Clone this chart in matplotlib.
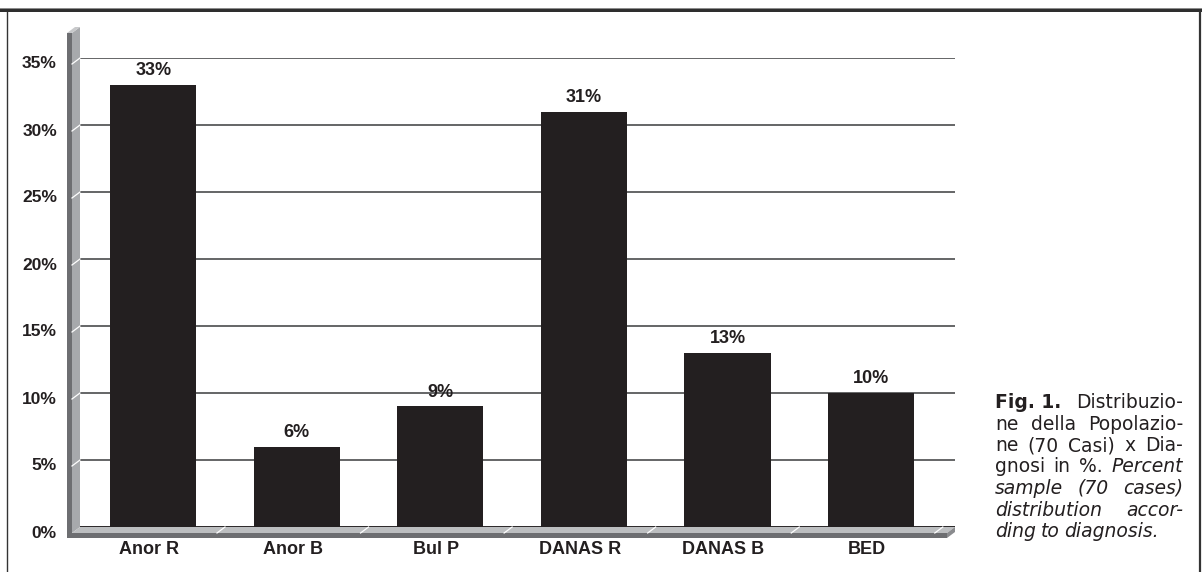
import matplotlib
matplotlib.use("Agg")
import matplotlib.pyplot as plt
from matplotlib.patches import Polygon, Rectangle
from matplotlib.lines import Line2D
from matplotlib.transforms import IdentityTransform, ScaledTranslation

# Data
categories = ["Anor R", "Anor B", "Bul P", "DANAS R", "DANAS B", "BED"]
percentages = [33, 6, 9, 31, 13, 10]
y_ticks = [0, 5, 10, 15, 20, 25, 30, 35]

caption_lines = [
    [("Fig. 1.", "bold"), ("Distribuzio-", "normal")],
    [("ne", "normal"), ("della", "normal"), ("Popolazio-", "normal")],
    [("ne", "normal"), ("(70", "normal"), ("Casi)", "normal"), ("x", "normal"), ("Dia-", "normal")],
    [("gnosi", "normal"), ("in", "normal"), ("%.", "normal"), ("Percent", "italic")],
    [("sample", "italic"), ("(70", "italic"), ("cases)", "italic")],
    [("distribution", "italic"), ("accor-", "italic")],
    [("ding", "italic"), ("to", "italic"), ("diagnosis.", "italic")],
]

W, H = 1202, 572
DPI = 100
INK = "#231f20"
FONT = "Liberation Sans"

fig = plt.figure(figsize=(W / DPI, H / DPI), dpi=DPI)
fig.patch.set_facecolor("white")

# plot box in pixels (left, right, bottom(0%), top(35%)) measured from top
L, R, B, T = 80, 955, 527, 58
ax = fig.add_axes([L / W, (H - B) / H, (R - L) / W, (B - T) / H])
ax.set_xlim(-0.51, 5.585)
ax.set_ylim(0, 35)
for s in ax.spines.values():
    s.set_visible(False)
ax.set_xticks([])
ax.set_yticks(y_ticks)
ax.tick_params(axis="y", length=0, labelleft=False)
ax.yaxis.grid(True, color="#58595b", lw=1.3)
ax.set_axisbelow(True)

x = list(range(len(categories)))
ax.bar(x, percentages, width=0.6, color=INK, zorder=3)

for xi, v in zip(x, percentages):
    ax.annotate(f"{v}%", (xi, v), xytext=(0, 4), textcoords="offset points",
                ha="center", va="bottom", fontsize=13, fontweight="bold",
                color=INK, family=FONT)

# y tick labels, aligned with the front face of the wall
ytrans = ax.get_yaxis_transform() + ScaledTranslation(-23 / DPI, -6 / DPI, fig.dpi_scale_trans)
for t in y_ticks:
    ax.text(0, t, f"{t}%", transform=ytrans, ha="right", va="center",
            fontsize=12.5, fontweight="bold", color=INK, family=FONT)

# category labels below the floor
xtrans = ax.get_xaxis_transform() + ScaledTranslation(-4 / DPI, -14 / DPI, fig.dpi_scale_trans)
for xi, c in zip(x, categories):
    ax.text(xi, 0, c, transform=xtrans, ha="center", va="top",
            fontsize=13, fontweight="bold", color=INK, family=FONT)


def px(pts):
    return [(a, H - b) for a, b in pts]


ident = IdentityTransform()
front = "#6d6e71"
side = "#a7a9ac"
top_face = "#bcbec0"
dx, dy = 8, 6

# wall on the left
wall_front_l, wall_front_r = L - dx - 5, L - dx
wall_top = 33
fig.add_artist(Polygon(px([(wall_front_l, wall_top), (wall_front_r, wall_top),
                           (wall_front_r, B + dy + 5), (wall_front_l, B + dy + 5)]),
                       closed=True, facecolor=front, edgecolor="none", transform=ident))
fig.add_artist(Polygon(px([(wall_front_r, wall_top), (L, wall_top - dy),
                           (L, B), (wall_front_r, B + dy)]),
                       closed=True, facecolor=side, edgecolor="none", transform=ident))
fig.add_artist(Polygon(px([(wall_front_l, wall_top), (wall_front_r, wall_top),
                           (L, wall_top - dy), (L - 5, wall_top - dy)]),
                       closed=True, facecolor="#c8c9cb", edgecolor="none", transform=ident))

# floor
fig.add_artist(Polygon(px([(wall_front_r, B + dy), (L, B), (R, B), (R - dx, B + dy)]),
                       closed=True, facecolor=top_face, edgecolor="none", transform=ident))
fig.add_artist(Polygon(px([(wall_front_l, B + dy), (R - dx, B + dy),
                           (R - dx, B + dy + 5), (wall_front_l, B + dy + 5)]),
                       closed=True, facecolor=front, edgecolor="none", transform=ident))
fig.add_artist(Polygon(px([(R - dx, B + dy), (R, B), (R, B + 5), (R - dx, B + dy + 5)]),
                       closed=True, facecolor="#8a8b8e", edgecolor="none", transform=ident))
# bottom edge line of the plot floor
ax.axhline(0, color=INK, lw=1.2, zorder=2)

# light grooves: gridlines on the wall, category dividers on the floor
for t in y_ticks[1:]:
    yp = ax.transData.transform((0, t))[1]
    fig.add_artist(Line2D([wall_front_r, L], [yp - dy, yp], color="white", lw=0.9,
                          transform=ident))
for k in range(len(categories)):
    xp = ax.transData.transform((k + 0.5, 0))[0]
    fig.add_artist(Line2D([xp - dx, xp], [H - B - dy, H - B], color="white", lw=0.9,
                          transform=ident))

# page frame
fig.add_artist(Rectangle((0, H - 12), W, 4, facecolor="#2e2e2e", edgecolor="none",
                         transform=ident))
fig.add_artist(Rectangle((0, H - 9), W, 1, facecolor="#8c8c8c", edgecolor="none",
                         transform=ident))
fig.add_artist(Line2D([6.5, 6.5], [0, H - 12], color="#333333", lw=1.0, transform=ident))
fig.add_artist(Line2D([1199.5, 1199.5], [0, H - 12], color="#333333", lw=1.6, transform=ident))

# justified caption block
cap_left, cap_right = 995, 1183
base0, lead = 408, 21.5
cap_font = "DejaVu Sans"
cap_size = 13.5
renderer = fig.canvas.get_renderer()
for i, words in enumerate(caption_lines):
    yb = H - (base0 + lead * i)
    arts = []
    for w, style in words:
        kw = dict(fontsize=cap_size, family=cap_font, color=INK, va="baseline",
                  ha="left", transform=ident)
        if style == "bold":
            kw["fontweight"] = "bold"
        elif style == "italic":
            kw["fontstyle"] = "italic"
        arts.append(fig.text(0, yb, w, **kw))
    widths = [a.get_window_extent(renderer).width for a in arts]
    total = sum(widths)
    last = i == len(caption_lines) - 1
    if last or len(arts) == 1:
        gap = cap_size * 0.35
    else:
        gap = (cap_right - cap_left - total) / (len(arts) - 1)
    xc = cap_left
    for a, w in zip(arts, widths):
        a.set_x(xc)
        xc += w + gap

fig.savefig("out.png", dpi=DPI)
